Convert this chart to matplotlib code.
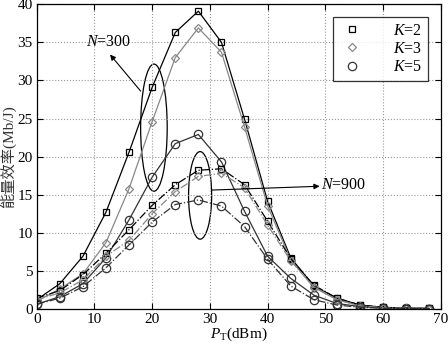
import numpy as np
import matplotlib
matplotlib.use('Agg')
import matplotlib.pyplot as plt
from matplotlib.patches import Ellipse

plt.rcParams['font.family'] = ['Liberation Serif', 'Noto Sans CJK SC']
plt.rcParams['mathtext.fontset'] = 'custom'
plt.rcParams['mathtext.rm'] = 'Liberation Serif'
plt.rcParams['mathtext.it'] = 'Liberation Serif:italic'

# transmit power P_T (dBm), markers every 4 dBm
pt = [0, 4, 8, 12, 16, 20, 24, 28, 32, 36, 40, 44, 48, 52, 56, 60, 64, 68]

# energy efficiency (Mb/J), N=300 (solid lines)
n300_k2 = [1.2, 3.3, 6.9, 12.7, 20.6, 29.1, 36.3, 39.1, 35.0, 24.9, 14.1, 6.7, 3.0, 1.4, 0.5, 0.2, 0.1, 0.05]
n300_k3 = [1.0, 2.6, 4.6, 8.7, 15.8, 24.6, 33.0, 36.9, 33.7, 23.9, 13.5, 6.4, 2.8, 1.2, 0.4, 0.15, 0.08, 0.04]
n300_k5 = [0.6, 1.6, 3.3, 6.7, 11.7, 17.3, 21.7, 22.9, 19.3, 12.8, 6.9, 4.0, 1.8, 0.7, 0.3, 0.1, 0.05, 0.02]

# energy efficiency (Mb/J), N=900 (dash-dot lines)
n900_k2 = [1.4, 2.4, 4.5, 7.3, 10.4, 13.6, 16.3, 18.2, 18.4, 16.3, 11.5, 6.6, 3.1, 1.4, 0.5, 0.2, 0.1, 0.05]
n900_k3 = [1.2, 2.1, 3.8, 6.9, 9.0, 12.5, 15.4, 17.4, 17.8, 15.9, 11.0, 6.3, 2.9, 1.2, 0.4, 0.15, 0.08, 0.04]
n900_k5 = [0.6, 1.4, 2.9, 5.4, 8.4, 11.4, 13.7, 14.3, 13.5, 10.8, 6.5, 3.0, 1.2, 0.5, 0.2, 0.08, 0.04, 0.02]

k_labels = ['$K$=2', '$K$=3', '$K$=5']

fig = plt.figure(figsize=(4.48, 3.47), dpi=100)
ax = fig.add_axes([0.082, 0.110, 0.902, 0.8776])

styles = [('s', 'black'), ('D', '#888888'), ('o', '#333333')]
msz = [4.8, 4.2, 6.0]

for ys, (m, c), ms in zip([n300_k2, n300_k3, n300_k5], styles, msz):
    ax.plot(pt, ys, '-', color=c, lw=0.9, marker=m, ms=ms,
            mfc='none', mec=c, mew=0.9)
for ys, (m, c), ms in zip([n900_k2, n900_k3, n900_k5], styles, msz):
    ax.plot(pt, ys, '-.', color=c, lw=0.9, marker=m, ms=ms,
            mfc='none', mec=c, mew=0.9)

# legend with markers only
handles = []
for (m, c), ms in zip(styles, msz):
    h, = ax.plot([], [], ls='none', marker=m, ms=ms,
                 mfc='none', mec=c, mew=0.9)
    handles.append(h)
leg = ax.legend(handles, k_labels, loc='upper right', bbox_to_anchor=(0.968, 0.958),
                fontsize=11.5, frameon=True, fancybox=False, edgecolor='black',
                handletextpad=1.8, borderpad=0.35, labelspacing=0.15,
                handlelength=1.6, borderaxespad=0)
leg.get_frame().set_linewidth(0.9)

# annotations
ax.add_patch(Ellipse((20.3, 23.8), 4.6, 16.7, fill=False, ec='black', lw=0.9))
ax.add_patch(Ellipse((28.3, 14.9), 4.0, 11.5, fill=False, ec='black', lw=0.9))
ax.annotate('', xy=(12.7, 33.4), xytext=(18.0, 28.6),
            arrowprops=dict(arrowstyle='-|>', color='black', lw=0.8,
                            mutation_scale=8, shrinkA=0, shrinkB=0))
ax.text(8.5, 35.0, '$N$=300', fontsize=11.5, va='center', ha='left')
ax.annotate('', xy=(49.0, 16.1), xytext=(30.3, 15.6),
            arrowprops=dict(arrowstyle='-|>', color='black', lw=0.8,
                            mutation_scale=8, shrinkA=0, shrinkB=0))
ax.text(49.3, 16.2, '$N$=900', fontsize=11.5, va='center', ha='left')

ax.set_xlim(0, 70)
ax.set_ylim(0, 40)
ax.set_xticks(range(0, 71, 10))
ax.set_yticks(range(0, 41, 5))
ax.tick_params(direction='in', top=True, right=True, labelsize=11, length=4, pad=3)
ax.grid(True, ls=':', color='#999999', lw=0.8)
for s in ax.spines.values():
    s.set_linewidth(0.9)

ax.set_xlabel(r'$P_{\mathrm{T}}$(dBm)', fontsize=11, labelpad=0)
ax.set_ylabel('能量效率(Mb/J)', fontsize=11, labelpad=1, color='#333333')

fig.savefig('out.png', dpi=100)
